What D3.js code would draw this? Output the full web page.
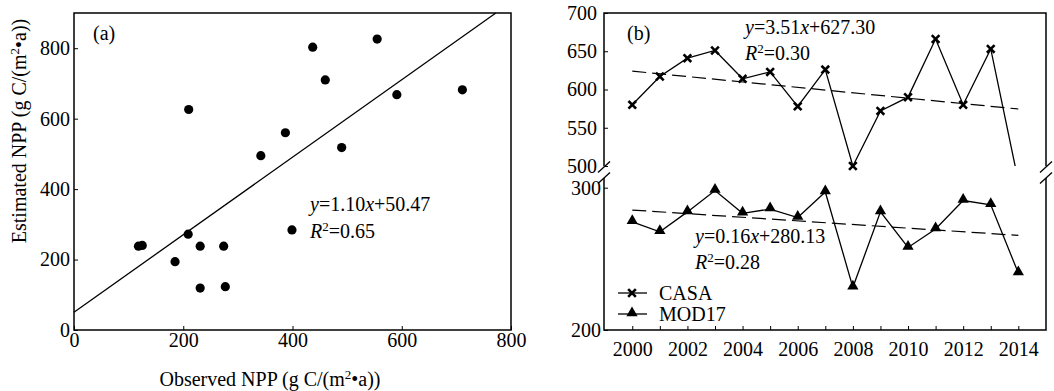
<!DOCTYPE html>
<html>
<head>
<meta charset="utf-8">
<script src="https://cdn.jsdelivr.net/npm/d3@7/dist/d3.min.js"></script>
<style>
  body { margin: 0; background: #fff; }
  svg text { font-family: "Liberation Serif", "Times New Roman", serif; fill: #000; }
</style>
</head>
<body>
<svg id="chart" width="1054" height="391"></svg>
<script>
// panel (a): observed vs estimated NPP
var obsNPP = [210, 437, 555, 460, 591, 711, 387, 342, 490, 399, 209, 118, 125, 231, 274, 185, 231, 277]
var estNPP = [626, 803, 826, 710, 668, 682, 560, 495, 518, 284, 272, 238, 240, 238, 238, 194, 119, 123]
var fitA = { slope: 1.10, intercept: 50.47 }
var ticksA_x = [0, 200, 400, 600, 800]
var ticksA_y = [0, 200, 400, 600, 800]

// panel (b): yearly NPP
var years = [2000, 2001, 2002, 2003, 2004, 2005, 2006, 2007, 2008, 2009, 2010, 2011, 2012, 2013, 2014]
var casa = [580, 617, 641, 651, 614, 623, 578, 626, 500, 572, 590, 666, 580, 653, 480]
var mod17 = [276, 269, 283, 298, 282, 285, 279, 297, 230, 283, 258, 271, 291, 288, 240]
var casaTrend = [624, 574.5]
var mod17Trend = [284.3, 266.5]
var ticksB_upper = [500, 550, 600, 650, 700]
var ticksB_lower = [200, 300]
var yearLabels = [2000, 2002, 2004, 2006, 2008, 2010, 2012, 2014]

var svg = d3.select('#chart')
var fs = 20
var serif = '"Liberation Serif", "Times New Roman", serif'

function styleAxis(g) {
  g.attr('font-family', serif).attr('font-size', fs)
  g.select('.domain').remove()
  g.selectAll('text').style('font-family', serif).style('font-size', fs + 'px')
}

// ---------- panel (a)
var a = { left: 74, right: 511, top: 13, bottom: 330 }
var xA = d3.scaleLinear().domain([0, 800]).range([a.left, a.right])
var yA = d3.scaleLinear().domain([0, 900]).range([a.bottom, a.top])

var gA = svg.append('g')

gA.append('g')
  .attr('transform', 'translate(0,' + a.bottom + ')')
  .call(d3.axisBottom(xA).tickValues(ticksA_x).tickSize(-4).tickPadding(3))
  .call(styleAxis)

gA.append('g')
  .attr('transform', 'translate(' + a.left + ',0)')
  .call(d3.axisLeft(yA).tickValues(ticksA_y).tickSize(-4).tickPadding(4))
  .call(styleAxis)

gA.append('rect')
  .attr('x', a.left).attr('y', a.top)
  .attr('width', a.right - a.left).attr('height', a.bottom - a.top)
  .attr('fill', 'none').attr('stroke', '#000').attr('stroke-width', 1.5)

// fit line, stops at the top of the frame
var xEnd = (yA.domain()[1] - fitA.intercept) / fitA.slope
gA.append('line')
  .attr('x1', xA(0)).attr('y1', yA(fitA.intercept))
  .attr('x2', xA(xEnd)).attr('y2', yA(fitA.slope * xEnd + fitA.intercept))
  .attr('stroke', '#000').attr('stroke-width', 1.3)

gA.selectAll('circle.pt')
  .data(obsNPP)
  .enter()
  .append('circle')
  .attr('class', 'pt')
  .attr('cx', d => xA(d))
  .attr('cy', (d, i) => yA(estNPP[i]))
  .attr('r', 4.6)
  .attr('fill', '#000')

gA.append('text').attr('x', 93).attr('y', 40).style('font-size', fs + 'px').text('(a)')

var eqA = gA.append('text').attr('x', 310).attr('y', 211).style('font-size', fs + 'px')
eqA.append('tspan').style('font-style', 'italic').text('y')
eqA.append('tspan').text('=1.10')
eqA.append('tspan').style('font-style', 'italic').text('x')
eqA.append('tspan').text('+50.47')

var r2A = gA.append('text').attr('x', 310).attr('y', 238).style('font-size', fs + 'px')
r2A.append('tspan').style('font-style', 'italic').text('R')
r2A.append('tspan').attr('dy', -7).style('font-size', '13px').text('2')
r2A.append('tspan').attr('dy', 7).text('=0.65')

function unitLabel(t, prefix) {
  t.append('tspan').text(prefix + ' (g C/(m')
  t.append('tspan').attr('dy', -7).style('font-size', '13px').text('2')
  t.append('tspan').attr('dy', 7).text('•a))')
}

var xlab = gA.append('text').attr('x', 270).attr('y', 386)
  .attr('text-anchor', 'middle').style('font-size', fs + 'px')
unitLabel(xlab, 'Observed NPP')

var ylab = gA.append('text')
  .attr('transform', 'translate(26,131) rotate(-90)')
  .attr('text-anchor', 'middle').style('font-size', fs + 'px')
unitLabel(ylab, 'Estimated NPP')

// ---------- panel (b)
var b = { left: 604, right: 1046, top: 13, bottom: 330, breakTop: 166, lowTop: 187.7, lowLine: 178 }
var xB = d3.scaleLinear().domain([1999, 2015]).range([604.7, 1045.9])
var yUp = d3.scaleLinear().domain([500, 700]).range([b.breakTop, b.top])
var yLow = d3.scaleLinear().domain([200, 300]).range([b.bottom, b.lowTop])

var gB = svg.append('g')

gB.append('g')
  .attr('transform', 'translate(0,' + b.bottom + ')')
  .call(d3.axisBottom(xB).tickValues(years).tickSize(-4).tickPadding(12)
    .tickFormat(d => yearLabels.indexOf(d) >= 0 ? d : ''))
  .call(styleAxis)

gB.append('g')
  .attr('transform', 'translate(' + b.left + ',0)')
  .call(d3.axisLeft(yUp).tickValues(ticksB_upper).tickSize(-4).tickPadding(7))
  .call(styleAxis)

gB.append('g')
  .attr('transform', 'translate(' + b.left + ',0)')
  .call(d3.axisLeft(yLow).tickValues(ticksB_lower).tickSize(-4).tickPadding(3))
  .call(styleAxis)

// frame with broken sides
var frame = gB.append('g').attr('stroke', '#000').attr('stroke-width', 1.5).attr('fill', 'none')
frame.append('path').attr('d',
  'M' + b.left + ',' + b.breakTop + 'V' + b.top + 'H' + b.right + 'V' + b.breakTop)
frame.append('path').attr('d',
  'M' + b.left + ',' + b.lowLine + 'V' + b.bottom + 'H' + b.right + 'V' + b.lowLine)
;[b.left, b.right].forEach(function(x) {
  ;[167, 178].forEach(function(y) {
    frame.append('line')
      .attr('x1', x - 6).attr('y1', y + 5.5)
      .attr('x2', x + 6).attr('y2', y - 5.5)
      .attr('stroke-width', 1.3)
  })
})

gB.append('clipPath').attr('id', 'clipUp')
  .append('rect').attr('x', b.left).attr('y', b.top)
  .attr('width', b.right - b.left).attr('height', b.breakTop - b.top)

var lineUp = d3.line().x((d, i) => xB(years[i])).y(d => yUp(d))
var lineLow = d3.line().x((d, i) => xB(years[i])).y(d => yLow(d))

// trends
gB.append('line')
  .attr('x1', xB(years[0])).attr('y1', yUp(casaTrend[0]))
  .attr('x2', xB(years[years.length - 1])).attr('y2', yUp(casaTrend[1]))
  .attr('stroke', '#000').attr('stroke-width', 1.2).attr('stroke-dasharray', '14,6')
gB.append('line')
  .attr('x1', xB(years[0])).attr('y1', yLow(mod17Trend[0]))
  .attr('x2', xB(years[years.length - 1])).attr('y2', yLow(mod17Trend[1]))
  .attr('stroke', '#000').attr('stroke-width', 1.2).attr('stroke-dasharray', '14,6')

gB.append('path').datum(casa)
  .attr('clip-path', 'url(#clipUp)')
  .attr('d', lineUp).attr('fill', 'none').attr('stroke', '#000').attr('stroke-width', 1.3)
gB.append('path').datum(mod17)
  .attr('d', lineLow).attr('fill', 'none').attr('stroke', '#000').attr('stroke-width', 1.3)

var cross = d3.symbol().type(d3.symbolX).size(40)
var tri = d3.symbol().type(d3.symbolTriangle).size(55)

var casaPts = casa.map((d, i) => ({ v: d, yr: years[i] })).filter(d => d.v >= 500)
gB.selectAll('path.casa')
  .data(casaPts)
  .enter()
  .append('path')
  .attr('class', 'casa')
  .attr('transform', d => 'translate(' + xB(d.yr) + ',' + yUp(d.v) + ')')
  .attr('d', cross).attr('fill', 'none').attr('stroke', '#000').attr('stroke-width', 2.6)

gB.selectAll('path.mod')
  .data(mod17)
  .enter()
  .append('path')
  .attr('class', 'mod')
  .attr('transform', (d, i) => 'translate(' + xB(years[i]) + ',' + (yLow(d) - 1) + ')')
  .attr('d', tri).attr('fill', '#000')

gB.append('text').attr('x', 627).attr('y', 40).style('font-size', fs + 'px').text('(b)')

function equation(x, y, coef, r2) {
  var t1 = gB.append('text').attr('x', x).attr('y', y).style('font-size', fs + 'px')
  t1.append('tspan').style('font-style', 'italic').text('y')
  t1.append('tspan').text(coef[0])
  t1.append('tspan').style('font-style', 'italic').text('x')
  t1.append('tspan').text(coef[1])
  var t2 = gB.append('text').attr('x', x).attr('y', y + 26).style('font-size', fs + 'px')
  t2.append('tspan').style('font-style', 'italic').text('R')
  t2.append('tspan').attr('dy', -7).style('font-size', '13px').text('2')
  t2.append('tspan').attr('dy', 7).text(r2)
}
equation(745, 34, ['=3.51', '+627.30'], '=0.30')
equation(695, 243, ['=0.16', '+280.13'], '=0.28')

// legend
var legend = [{ name: 'CASA', sym: cross, y: 293 }, { name: 'MOD17', sym: tri, y: 314 }]
legend.forEach(function(l) {
  gB.append('line').attr('x1', 618).attr('x2', 647).attr('y1', l.y).attr('y2', l.y)
    .attr('stroke', '#000').attr('stroke-width', 1.3)
  var m = gB.append('path').attr('transform', 'translate(632,' + (l.y - (l.name === 'MOD17' ? 1 : 0)) + ')')
    .attr('d', l.sym)
  if (l.name === 'CASA') m.attr('fill', 'none').attr('stroke', '#000').attr('stroke-width', 2.6)
  else m.attr('fill', '#000')
  gB.append('text').attr('x', 659).attr('y', l.y + 6.5).style('font-size', fs + 'px').text(l.name)
})
</script>
</body>
</html>
